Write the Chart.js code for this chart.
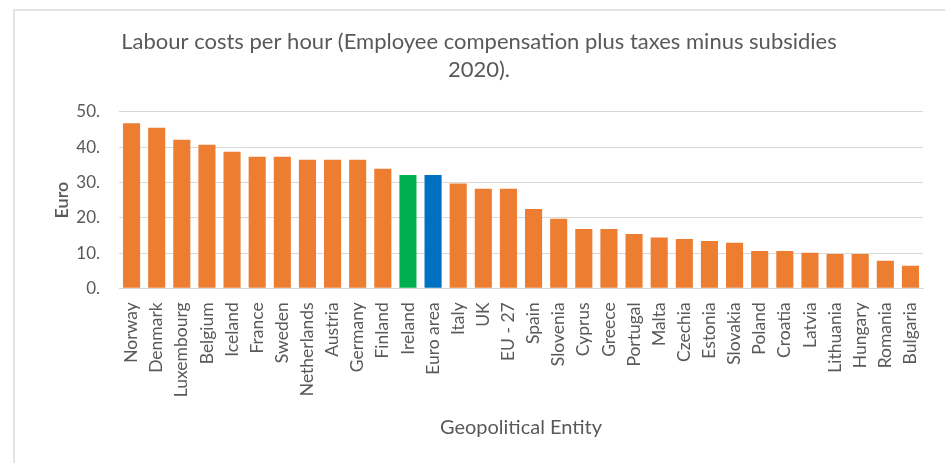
<!DOCTYPE html>
<html>
<head>
<meta charset="utf-8">
<script src="https://cdn.jsdelivr.net/npm/chart.js@4"></script>
<style>
  html, body { margin: 0; padding: 0; background: #fff; }
  #frame { position: absolute; left: 13px; top: 9px; width: 932px; height: 454px;
           border-left: 2px solid #e3e3e3; border-top: 2px solid #e3e3e3; box-sizing: border-box; }
  #wrap { position: absolute; left: 35px; top: 9px; width: 910px; height: 454px; }
</style>
</head>
<body>
<div id="frame"></div>
<div id="wrap"><canvas id="c" width="910" height="454"></canvas></div>
<script>
const categories = ["Norway","Denmark","Luxembourg","Belgium","Iceland","France","Sweden","Netherlands","Austria","Germany","Finland","Ireland","Euro area","Italy","UK","EU - 27","Spain","Slovenia","Cyprus","Greece","Portugal","Malta","Czechia","Estonia","Slovakia","Poland","Croatia","Latvia","Lithuania","Hungary","Romania","Bulgaria"];
const costs = [46.8,45.5,42.1,40.7,38.7,37.3,37.3,36.4,36.4,36.4,33.9,32.1,32.1,29.7,28.2,28.2,22.5,19.7,16.8,16.8,15.4,14.4,14.0,13.4,12.9,10.6,10.6,10.1,9.7,9.7,7.8,6.4];
const yTicks = [0,10,20,30,40,50];
const titleLines = ["Labour costs per hour (Employee compensation plus taxes minus subsidies","2020)."];

const ORANGE = "#ED7D31", GREEN = "#00B050", BLUE = "#0070C0";
const colors = categories.map(c => c === "Ireland" ? GREEN : (c === "Euro area" ? BLUE : ORANGE));
const FONT = "Lato, 'Open Sans', sans-serif";

new Chart(document.getElementById("c"), {
  type: "bar",
  data: {
    labels: categories,
    datasets: [{ data: costs, backgroundColor: colors, borderWidth: 0,
                 categoryPercentage: 1.0, barPercentage: 0.68 }]
  },
  options: {
    responsive: false,
    animation: false,
    layout: { padding: { left: 0, right: 22, top: 0, bottom: 0 } },
    plugins: {
      legend: { display: false },
      tooltip: { enabled: false },
      title: {
        display: true, text: titleLines, color: "#595959",
        font: { family: FONT, size: 22, weight: "normal", lineHeight: 1.27 },
        padding: { top: 19, bottom: 28 }
      }
    },
    scales: {
      x: {
        grid: { display: false },
        border: { display: true, color: "#d9d9d9", width: 1 },
        ticks: { color: "#595959", font: { family: FONT, size: 17.5 }, maxRotation: 90, minRotation: 90, autoSkip: false, padding: 6 },
        title: { display: true, text: "Geopolitical Entity", color: "#595959",
                 font: { family: FONT, size: 20 }, padding: { top: 10, bottom: 23 } },
        afterFit: (s) => { s.height = 174.7; }
      },
      y: {
        min: 0, max: 50,
        afterBuildTicks: (s) => { s.ticks = yTicks.map(v => ({ value: v })); },
        grid: { color: "#d9d9d9", lineWidth: 1, drawTicks: false },
        border: { display: false },
        ticks: { color: "#595959", font: { family: FONT, size: 17 }, padding: 19,
                 callback: (v) => v + "." },
        title: { display: true, text: "Euro", color: "#595959",
                 font: { family: FONT, size: 18, weight: "600" }, padding: { top: 16, bottom: 10 } },
        afterFit: (s) => { s.width = 84; }
      }
    }
  }
});
</script>
</body>
</html>
